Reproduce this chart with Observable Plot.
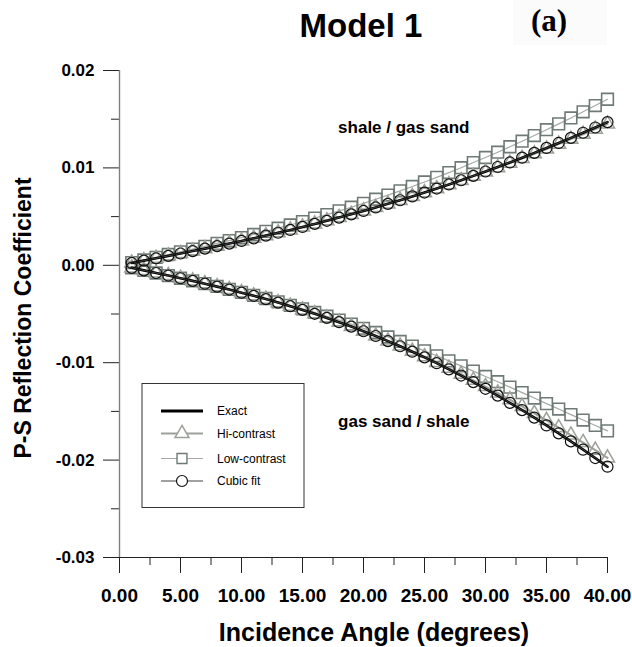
<!DOCTYPE html>
<html>
<head>
<meta charset="utf-8">
<script src="https://cdn.jsdelivr.net/npm/d3@7"></script>
<script src="https://cdn.jsdelivr.net/npm/@observablehq/plot@0.6"></script>
<style>
  body { margin: 0; background: #fff; }
  #chart { position: relative; width: 632px; height: 647px; font-family: "Liberation Sans", Arial, sans-serif; }
  #chart > svg { position: absolute; left: 0; top: 0; }
</style>
</head>
<body>
<div id="chart"></div>
<script>
// Incidence angles (degrees)
const angles = [1,2,3,4,5,6,7,8,9,10,11,12,13,14,15,16,17,18,19,20,
                21,22,23,24,25,26,27,28,29,30,31,32,33,34,35,36,37,38,39,40];

// shale / gas sand interface
const exactUpper = [0.00024,0.00048,0.00072,0.00097,0.00121,0.00146,0.00171,0.00197,0.00223,0.00250,
                    0.00277,0.00305,0.00334,0.00363,0.00394,0.00425,0.00457,0.00490,0.00523,0.00558,
                    0.00594,0.00631,0.00668,0.00707,0.00747,0.00788,0.00830,0.00873,0.00918,0.00963,
                    0.01009,0.01056,0.01105,0.01154,0.01205,0.01256,0.01308,0.01361,0.01415,0.01470];
const hiUpper    = [0.00024,0.00048,0.00072,0.00097,0.00121,0.00146,0.00171,0.00197,0.00223,0.00250,
                    0.00277,0.00305,0.00334,0.00363,0.00394,0.00425,0.00457,0.00490,0.00523,0.00558,
                    0.00594,0.00631,0.00667,0.00706,0.00746,0.00786,0.00828,0.00870,0.00914,0.00958,
                    0.01003,0.01049,0.01097,0.01145,0.01194,0.01244,0.01295,0.01346,0.01398,0.01450];
const lowUpper   = [0.00027,0.00055,0.00082,0.00111,0.00138,0.00166,0.00195,0.00225,0.00254,0.00285,
                    0.00316,0.00348,0.00381,0.00414,0.00449,0.00485,0.00521,0.00559,0.00596,0.00636,
                    0.00678,0.00721,0.00764,0.00809,0.00855,0.00903,0.00952,0.01002,0.01055,0.01107,
                    0.01161,0.01217,0.01274,0.01332,0.01392,0.01452,0.01513,0.01576,0.01640,0.01705];
const cubicUpper = [0.00024,0.00048,0.00072,0.00097,0.00121,0.00146,0.00171,0.00197,0.00223,0.00250,
                    0.00277,0.00305,0.00334,0.00363,0.00394,0.00425,0.00457,0.00490,0.00523,0.00558,
                    0.00594,0.00631,0.00668,0.00707,0.00747,0.00788,0.00830,0.00873,0.00918,0.00963,
                    0.01009,0.01056,0.01105,0.01154,0.01205,0.01256,0.01308,0.01361,0.01415,0.01470];

// gas sand / shale interface
const exactLower = [-0.00026,-0.00052,-0.00079,-0.00105,-0.00133,-0.00160,-0.00189,-0.00219,-0.00249,-0.00281,
                    -0.00313,-0.00347,-0.00383,-0.00420,-0.00458,-0.00498,-0.00540,-0.00584,-0.00629,-0.00677,
                    -0.00726,-0.00778,-0.00831,-0.00887,-0.00945,-0.01005,-0.01068,-0.01132,-0.01199,-0.01268,
                    -0.01338,-0.01412,-0.01487,-0.01564,-0.01644,-0.01725,-0.01808,-0.01893,-0.01979,-0.02068];
const hiLower    = [-0.00026,-0.00052,-0.00079,-0.00105,-0.00133,-0.00160,-0.00189,-0.00219,-0.00249,-0.00281,
                    -0.00313,-0.00347,-0.00383,-0.00420,-0.00458,-0.00498,-0.00540,-0.00584,-0.00629,-0.00677,
                    -0.00726,-0.00777,-0.00829,-0.00883,-0.00939,-0.00997,-0.01057,-0.01118,-0.01181,-0.01245,
                    -0.01311,-0.01380,-0.01449,-0.01520,-0.01593,-0.01667,-0.01743,-0.01820,-0.01898,-0.01978];
const lowLower   = [-0.00026,-0.00052,-0.00079,-0.00105,-0.00133,-0.00159,-0.00188,-0.00217,-0.00247,-0.00278,
                    -0.00309,-0.00341,-0.00376,-0.00411,-0.00447,-0.00484,-0.00523,-0.00563,-0.00604,-0.00647,
                    -0.00690,-0.00736,-0.00782,-0.00830,-0.00879,-0.00929,-0.00981,-0.01033,-0.01087,-0.01141,
                    -0.01195,-0.01251,-0.01307,-0.01363,-0.01420,-0.01476,-0.01533,-0.01589,-0.01644,-0.01700];
const cubicLower = [-0.00026,-0.00052,-0.00079,-0.00105,-0.00133,-0.00160,-0.00189,-0.00219,-0.00249,-0.00281,
                    -0.00313,-0.00347,-0.00383,-0.00420,-0.00458,-0.00498,-0.00540,-0.00584,-0.00629,-0.00677,
                    -0.00726,-0.00778,-0.00831,-0.00887,-0.00945,-0.01005,-0.01068,-0.01132,-0.01199,-0.01268,
                    -0.01338,-0.01412,-0.01487,-0.01564,-0.01644,-0.01725,-0.01808,-0.01893,-0.01979,-0.02068];

// Axis ticks
const xMajor = [0,5,10,15,20,25,30,35,40];
const xMinor = [2.5,7.5,12.5,17.5,22.5,27.5,32.5,37.5];
const yMajor = [0.02,0.01,0,-0.01,-0.02,-0.03];
const yMinor = [0.015,0.005,-0.005,-0.015,-0.025];

const seriesNames = ["Exact","Hi-contrast","Low-contrast","Cubic fit"];

// Styles
const hiColor = "#9da299";
const lowLineColor = "#a4aaa4";
const lowMarkColor = "#6e7a76";
const cubicLineColor = "#444";

function rows(values, branch) {
  return angles.map((a, i) => ({angle: a, value: values[i], branch}));
}
const exact = [...rows(exactUpper, "upper"), ...rows(exactLower, "lower")];
const hi    = [...rows(hiUpper, "upper"), ...rows(hiLower, "lower")];
const low   = [...rows(lowUpper, "upper"), ...rows(lowLower, "lower")];
const cubic = [...rows(cubicUpper, "upper"), ...rows(cubicLower, "lower")];

const fmt = d => d.toFixed(2);
const enc = {x: "angle", y: "value", z: "branch"};

const chart = Plot.plot({
  width: 632,
  height: 647,
  marginTop: 70,
  marginBottom: 90,
  marginLeft: 119,
  marginRight: 25,
  x: {domain: [0, 40]},
  y: {domain: [-0.03, 0.02]},
  style: {
    fontFamily: "'Liberation Sans', Arial, sans-serif",
    fontSize: "17px",
    fontWeight: "bold",
    background: "transparent",
    overflow: "visible",
    color: "#000"
  },
  marks: [
    Plot.axisY({ticks: yMajor, tickSize: 16, tickPadding: 9, tickFormat: fmt, stroke: "#222", label: null}),
    Plot.axisY({ticks: yMinor, tickSize: 8, tickFormat: () => "", stroke: "#222", label: null}),
    Plot.axisX({ticks: xMajor, tickSize: 16, tickPadding: 15, tickFormat: fmt, fontSize: 19, stroke: "#222", label: null}),
    Plot.axisX({ticks: xMinor, tickSize: 8, tickFormat: () => "", stroke: "#222", label: null}),
    Plot.ruleY([-0.03], {stroke: "#222", strokeWidth: 1.2}),
    Plot.ruleX([0], {stroke: "#808080", strokeWidth: 1.4}),

    // Low-contrast approximation
    Plot.line(low, {...enc, stroke: lowLineColor, strokeWidth: 1.2}),
    Plot.dot(low, {x: "angle", y: "value", symbol: "square", r: 6.6, stroke: lowMarkColor, strokeWidth: 1.6, fill: "none"}),
    // Hi-contrast approximation
    Plot.line(hi, {...enc, stroke: hiColor, strokeWidth: 2}),
    Plot.dot(hi, {x: "angle", y: "value", symbol: "triangle", r: 5.2, stroke: hiColor, strokeWidth: 1.5, fill: "none"}),
    // Exact solution
    Plot.line(exact, {...enc, stroke: "#000", strokeWidth: 2.6}),
    // Cubic fit
    Plot.line(cubic, {...enc, stroke: cubicLineColor, strokeWidth: 1}),
    Plot.dot(cubic, {x: "angle", y: "value", r: 5.5, stroke: "#111", strokeWidth: 1.2, fill: "none"}),

    Plot.text(["shale / gas sand"], {x: 23.3, y: 0.01415, text: d => d, fontSize: 17, fontWeight: "bold", lineAnchor: "middle"}),
    Plot.text(["gas sand / shale"], {x: 23.3, y: -0.01605, text: d => d, fontSize: 17, fontWeight: "bold", lineAnchor: "middle"})
  ]
});
document.getElementById("chart").appendChild(chart);

// Titles and legend overlay
const overlay = d3.select("#chart").append("svg")
  .attr("width", 632).attr("height", 647)
  .style("pointer-events", "none");

overlay.append("text")
  .attr("x", 361).attr("y", 37)
  .attr("text-anchor", "middle")
  .attr("font-family", "'Liberation Sans', Arial, sans-serif")
  .attr("font-weight", "bold").attr("font-size", 33)
  .text("Model 1");

overlay.append("rect")
  .attr("x", 513).attr("y", 0).attr("width", 94).attr("height", 45)
  .attr("fill", "#fbfbfb");
overlay.append("text")
  .attr("x", 549).attr("y", 31)
  .attr("text-anchor", "middle")
  .attr("font-family", "'Liberation Serif', 'Times New Roman', serif")
  .attr("font-weight", "bold").attr("font-size", 31)
  .text("(a)");

overlay.append("text")
  .attr("x", 374).attr("y", 641)
  .attr("text-anchor", "middle")
  .attr("font-family", "'Liberation Sans', Arial, sans-serif")
  .attr("font-weight", "bold").attr("font-size", 25)
  .text("Incidence Angle (degrees)");

overlay.append("text")
  .attr("transform", "translate(31,318) rotate(-90)")
  .attr("text-anchor", "middle")
  .attr("font-family", "'Liberation Sans', Arial, sans-serif")
  .attr("font-weight", "bold").attr("font-size", 23)
  .text("P-S Reflection Coefficient");

// Legend box
const lg = overlay.append("g").attr("transform", "translate(142,383.5)");
lg.append("rect").attr("width", 162).attr("height", 124)
  .attr("fill", "#fff").attr("stroke", "#333").attr("stroke-width", 1);
const rowY = [27.5, 50, 75, 97.5];
const sym = d3.symbol();
seriesNames.forEach((name, i) => {
  const g = lg.append("g").attr("transform", `translate(0,${rowY[i]})`);
  if (i === 0) {
    g.append("line").attr("x1", 19).attr("x2", 61).attr("stroke", "#000").attr("stroke-width", 3);
  } else if (i === 1) {
    g.append("line").attr("x1", 19).attr("x2", 61).attr("stroke", hiColor).attr("stroke-width", 2);
    g.append("path").attr("transform", "translate(40,0)")
      .attr("d", sym.type(d3.symbolTriangle).size(Math.PI * 5.2 * 5.2)())
      .attr("fill", "#fff").attr("stroke", hiColor).attr("stroke-width", 1.5);
  } else if (i === 2) {
    g.append("line").attr("x1", 19).attr("x2", 61).attr("stroke", lowLineColor).attr("stroke-width", 1.2);
    g.append("path").attr("transform", "translate(40,0)")
      .attr("d", sym.type(d3.symbolSquare).size(Math.PI * 5.6 * 5.6)())
      .attr("fill", "#fff").attr("stroke", lowMarkColor).attr("stroke-width", 1.4);
  } else {
    g.append("line").attr("x1", 19).attr("x2", 61).attr("stroke", cubicLineColor).attr("stroke-width", 1.2);
    g.append("circle").attr("cx", 40).attr("r", 5.5)
      .attr("fill", "#fff").attr("stroke", "#111").attr("stroke-width", 1.2);
  }
  g.append("text").attr("x", 75).attr("dy", "0.35em")
    .attr("font-family", "'Liberation Sans', Arial, sans-serif")
    .attr("font-size", 12)
    .text(name);
});
</script>
</body>
</html>
